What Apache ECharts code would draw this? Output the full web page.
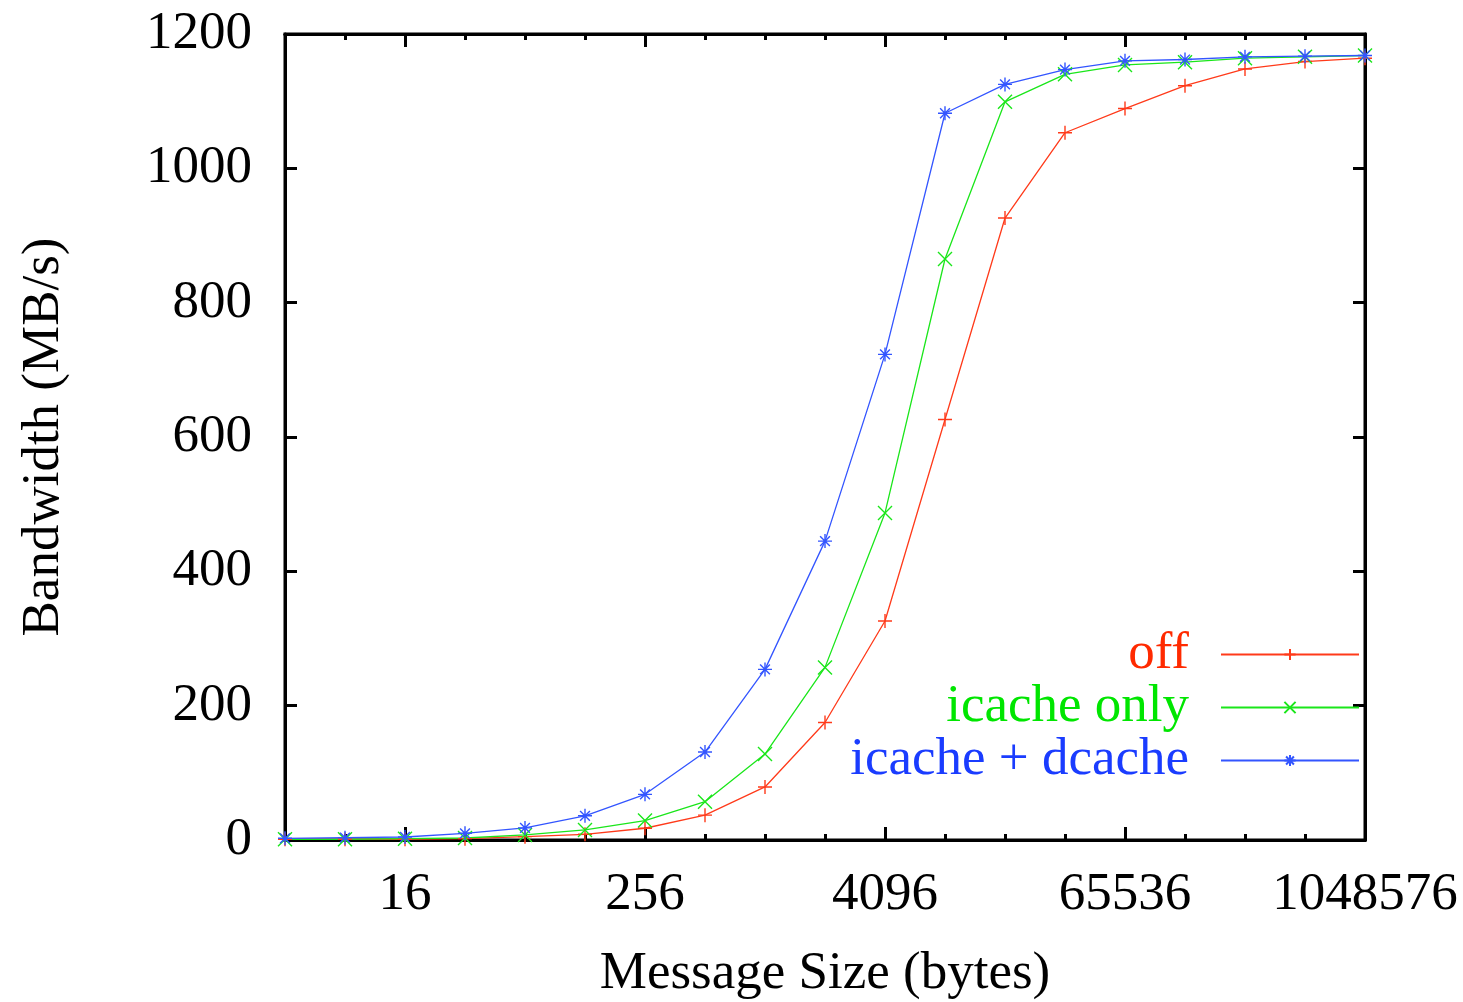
<!DOCTYPE html>
<html>
<head>
<meta charset="utf-8">
<script src="https://cdn.jsdelivr.net/npm/echarts@6/dist/echarts.min.js"></script>
<style>
html, body { margin: 0; padding: 0; background: #fff; }
#chart { width: 1463px; height: 1002px; }
</style>
</head>
<body>
<div id="chart"></div>
<script>
// message sizes in bytes (x, log2 axis)
const sizes = [4, 8, 16, 32, 64, 128, 256, 512, 1024, 2048, 4096, 8192, 16384,
  32768, 65536, 131072, 262144, 524288, 1048576];
const labelSizes = [16, 256, 4096, 65536, 1048576];
const yTicks = [0, 200, 400, 600, 800, 1000, 1200];

// bandwidth in MB/s
const offValues = [1, 1, 1, 2, 5, 8.5, 17.5, 37, 79, 175, 326, 626, 926,
  1053, 1089, 1123, 1148, 1159, 1164];
const icacheValues = [1, 1, 2, 3, 7.5, 15, 29, 57, 128, 257, 487, 865, 1099,
  1140, 1154, 1158, 1164, 1166, 1168];
const bothValues = [2.5, 3.5, 4.5, 10, 18, 36, 68, 131, 254, 445, 723, 1082, 1125,
  1147, 1160, 1162, 1166, 1167, 1168];

const FONT = "Liberation Serif";
const FS = 53;
const RED = "#ff2a00", GREEN = "#00e600", BLUE = "#1a3cff";
const LINE_RED = "#ff3a1a", LINE_GREEN = "#1ae61a", LINE_BLUE = "#3355ff";

const PLUS = "path://M5,0L5,10M0,5L10,5";
const CROSS = "path://M0,0L10,10M10,0L0,10";
const STAR = "path://M5,0L5,10M0,5L10,5M1.5,1.5L8.5,8.5M8.5,1.5L1.5,8.5";

const exps = sizes.map((s) => Math.log2(s));
const labelExps = labelSizes.map((s) => Math.log2(s));

function pts(vals) {
  return vals.map((v, i) => [exps[i], v]);
}

function xAx(pos, major, withLabel) {
  return {
    type: "value",
    position: pos,
    min: exps[0],
    max: exps[exps.length - 1],
    axisLine: { show: true, lineStyle: { color: "#000", width: 3 } },
    splitLine: { show: false },
    axisTick: {
      show: true,
      inside: true,
      length: major ? 13 : 6,
      customValues: major ? labelExps : exps,
      lineStyle: { color: "#000", width: 3 },
    },
    axisLabel: {
      show: withLabel,
      customValues: labelExps,
      formatter: (v) => String(Math.round(Math.pow(2, v))),
      fontFamily: FONT,
      fontSize: FS,
      color: "#000",
      margin: 29,
    },
  };
}

function yAx(pos, withLabel) {
  return {
    type: "value",
    position: pos,
    min: yTicks[0],
    max: yTicks[yTicks.length - 1],
    interval: 200,
    axisLine: { show: true, lineStyle: { color: "#000", width: 3 } },
    splitLine: { show: false },
    axisTick: {
      show: true,
      inside: true,
      length: 12,
      lineStyle: { color: "#000", width: 3 },
    },
    axisLabel: {
      show: withLabel,
      formatter: (v) => String(v),
      fontFamily: FONT,
      fontSize: FS,
      color: "#000",
      margin: 33,
    },
  };
}

function legendRow(name, color, top) {
  return {
    data: [name],
    orient: "vertical",
    align: "right",
    right: 98,
    top: top,
    itemWidth: 138,
    itemHeight: 14,
    selectedMode: false,
    textStyle: {
      color: color,
      fontFamily: FONT,
      fontSize: FS,
      padding: [0, 27, 0, 0],
    },
  };
}

function lineSeries(name, color, symbol, vals) {
  return {
    name: name,
    type: "line",
    xAxisIndex: 0,
    yAxisIndex: 0,
    data: pts(vals),
    symbol: symbol,
    symbolSize: 14,
    color: color,
    lineStyle: { color: color, width: 1.3 },
    itemStyle: { color: color, borderColor: color, borderWidth: 1.4 },
    emphasis: { disabled: true },
  };
}

const chart = echarts.init(document.getElementById("chart"));
const xAxes = [xAx("bottom", true, true), xAx("bottom", false, false),
  xAx("top", true, false), xAx("top", false, false)];
xAxes[0].name = "Message Size (bytes)";
xAxes[0].nameLocation = "middle";
xAxes[0].nameGap = 108;
xAxes[0].nameTextStyle = { fontFamily: FONT, fontSize: FS, color: "#000" };

const yAxes = [yAx("left", true), yAx("right", false)];
yAxes[0].name = "Bandwidth (MB/s)";
yAxes[0].nameLocation = "middle";
yAxes[0].nameGap = 214;
yAxes[0].nameTextStyle = { fontFamily: FONT, fontSize: FS, color: "#000" };

chart.setOption({
  animation: false,
  backgroundColor: "#fff",
  grid: {
    show: true,
    left: 285,
    right: 98,
    top: 34,
    bottom: 162,
    outerBoundsMode: "none",
    borderColor: "#000",
    borderWidth: 3,
    backgroundColor: "transparent",
  },
  legend: [
    legendRow("off", RED, 623),
    legendRow("icache only", GREEN, 676),
    legendRow("icache + dcache", BLUE, 729),
  ],
  xAxis: xAxes,
  yAxis: yAxes,
  series: [
    lineSeries("off", LINE_RED, PLUS, offValues),
    lineSeries("icache only", LINE_GREEN, CROSS, icacheValues),
    lineSeries("icache + dcache", LINE_BLUE, STAR, bothValues),
  ],
});
</script>
</body>
</html>
